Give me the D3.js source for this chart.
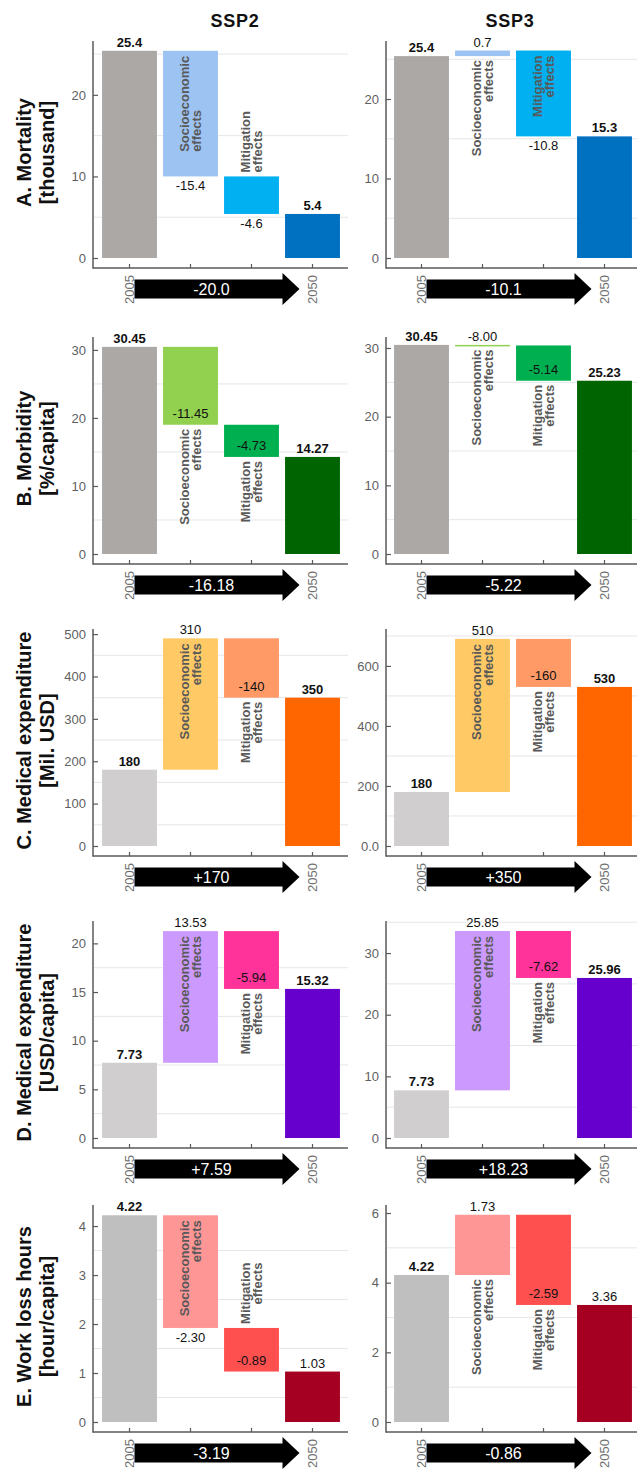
<!DOCTYPE html>
<html><head><meta charset="utf-8">
<script src="https://cdn.jsdelivr.net/npm/d3@7"></script>
<style>
body{margin:0;background:#fff}
svg{display:block}
text{font-family:"Liberation Sans",Arial,sans-serif}
</style>
</head><body>
<svg id="c" width="639" height="1472"></svg>
<script>
// ---------- DATA ----------
const categories = ["2005", "Socioeconomic effects", "Mitigation effects", "2050"];
const yearCategories = ["2005", "2050"];
const scenarios = ["SSP2", "SSP3"];
const indicatorNames = ["A. Mortality", "B. Morbidity", "C. Medical expenditure", "D. Medical expenditure", "E. Work loss hours"];
const indicatorUnits = ["[thousand]", "[%/capita]", "[Mil. USD]", "[USD/capita]", "[hour/capita]"];

// [2005 level, socioeconomic change, mitigation change, 2050 level]
const mortalitySSP2 = [25.4, -15.4, -4.6, 5.4];
const mortalitySSP3 = [25.4, 0.7, -10.8, 15.3];
const morbiditySSP2 = [30.45, -11.45, -4.73, 14.27];
const morbiditySSP3 = [30.45, -0.08, -5.14, 25.23];
const medExpSSP2 = [180, 310, -140, 350];
const medExpSSP3 = [180, 510, -160, 530];
const medExpCapSSP2 = [7.73, 13.53, -5.94, 15.32];
const medExpCapSSP3 = [7.73, 25.85, -7.62, 25.96];
const workLossSSP2 = [4.22, -2.30, -0.89, 1.03];
const workLossSSP3 = [4.22, 1.73, -2.59, 3.36];

const mortalitySSP2Labels = ["25.4", "-15.4", "-4.6", "5.4"];
const mortalitySSP3Labels = ["25.4", "0.7", "-10.8", "15.3"];
const morbiditySSP2Labels = ["30.45", "-11.45", "-4.73", "14.27"];
const morbiditySSP3Labels = ["30.45", "-8.00", "-5.14", "25.23"];
const medExpSSP2Labels = ["180", "310", "-140", "350"];
const medExpSSP3Labels = ["180", "510", "-160", "530"];
const medExpCapSSP2Labels = ["7.73", "13.53", "-5.94", "15.32"];
const medExpCapSSP3Labels = ["7.73", "25.85", "-7.62", "25.96"];
const workLossSSP2Labels = ["4.22", "-2.30", "-0.89", "1.03"];
const workLossSSP3Labels = ["4.22", "1.73", "-2.59", "3.36"];

const totalsSSP2 = ["-20.0", "-16.18", "+170", "+7.59", "-3.19"];
const totalsSSP3 = ["-10.1", "-5.22", "+350", "+18.23", "-0.86"];

const mortalityTicks = [0, 10, 20];
const morbidityTicks = [0, 10, 20, 30];
const medExpTicksSSP2 = [0, 100, 200, 300, 400, 500];
const medExpTicksSSP3 = [0, 200, 400, 600];
const medExpTickLabelsSSP3 = ["0.0", "200", "400", "600"];
const medExpCapTicksSSP2 = [0, 5, 10, 15, 20];
const medExpCapTicksSSP3 = [0, 10, 20, 30];
const workLossTicksSSP2 = [0, 1, 2, 3, 4];
const workLossTicksSSP3 = [0, 2, 4, 6];

const axisMaxSSP2 = [26.6, 31.9, 512, 22.3, 4.43];
const axisMaxSSP3 = [27.3, 31.6, 723, 35.2, 6.23];

// ---------- STYLE / LAYOUT ----------
const rowColors = [
  ["#ABA8A6", "#9DC3F3", "#00B0F0", "#0070C0"],
  ["#ABA8A6", "#92D050", "#00B050", "#006400"],
  ["#D0CECE", "#FFCA66", "#FF9966", "#FF6600"],
  ["#D0CECE", "#CC99FF", "#FF3399", "#6600CC"],
  ["#BFBFBF", "#FF9696", "#FF5050", "#A50021"]
];
const M1 = {sv: "above", st: "inTop", sa: "top", mv: "inBottom", mt: "below", ma: "top"};
const labelModes = [
  [{sv: "below", st: "inTop", sa: "bottom", mv: "below", mt: "above", ma: "bottom"},
   {sv: "above", st: "below", sa: "top", mv: "below", mt: "inTop", ma: "top"}],
  [{sv: "inBottom", st: "below", sa: "top", mv: "inBottom", mt: "below", ma: "top"},
   {sv: "above", st: "below", sa: "top", mv: "inBottom", mt: "below", ma: "top"}],
  [M1, M1],
  [M1, M1],
  [{sv: "below", st: "inTop", sa: "top", mv: "inBottom", mt: "above", ma: "top"},
   {sv: "above", st: "below", sa: "top", mv: "inBottom", mt: "below", ma: "top"}]
];

const rowTop = [41, 337, 629, 921, 1205];
const plotH = 217, axisGap = 10;
const yAxisX = [93, 386];
const bandStart = [99, 391], bandWidth = 244;
const axisRight = [348, 637];
const titleX = [235, 510];
const axisColor = "#5a5a5a";

const panelValues = [
  [mortalitySSP2, mortalitySSP3], [morbiditySSP2, morbiditySSP3],
  [medExpSSP2, medExpSSP3], [medExpCapSSP2, medExpCapSSP3], [workLossSSP2, workLossSSP3]];
const panelLabels = [
  [mortalitySSP2Labels, mortalitySSP3Labels], [morbiditySSP2Labels, morbiditySSP3Labels],
  [medExpSSP2Labels, medExpSSP3Labels], [medExpCapSSP2Labels, medExpCapSSP3Labels],
  [workLossSSP2Labels, workLossSSP3Labels]];
const panelTicks = [
  [mortalityTicks, mortalityTicks], [morbidityTicks, morbidityTicks],
  [medExpTicksSSP2, medExpTicksSSP3], [medExpCapTicksSSP2, medExpCapTicksSSP3],
  [workLossTicksSSP2, workLossTicksSSP3]];
const panelTickLabels = [
  [mortalityTicks.map(String), mortalityTicks.map(String)],
  [morbidityTicks.map(String), morbidityTicks.map(String)],
  [medExpTicksSSP2.map(String), medExpTickLabelsSSP3],
  [medExpCapTicksSSP2.map(String), medExpCapTicksSSP3.map(String)],
  [workLossTicksSSP2.map(String), workLossTicksSSP3.map(String)]];

const svg = d3.select("#c");

// Column titles
scenarios.forEach((s, i) => {
  svg.append("text").attr("x", titleX[i]).attr("y", 27).attr("text-anchor", "middle")
    .attr("font-size", 18).attr("font-weight", "bold").attr("letter-spacing", 0.8)
    .attr("fill", "#111").text(s);
});

function rotLabel(g, cx, lines, mode, align, barTop, barBottom) {
  const offs = [-6, 6];
  const texts = lines.map((t, k) => g.append("text")
    .attr("font-size", 13).attr("font-weight", "bold").attr("fill", "#595959")
    .attr("dy", "0.35em").text(t));
  const L = Math.max(...texts.map(t => t.node().getComputedTextLength()));
  let topStart;
  if (mode === "inTop") topStart = barTop + 5;
  else if (mode === "below") topStart = barBottom + 4;
  else topStart = barTop - 4 - L;
  texts.forEach((t, k) => {
    if (align === "top") {
      t.attr("text-anchor", "end").attr("transform", `translate(${cx + offs[k]},${topStart}) rotate(-90)`);
    } else {
      t.attr("text-anchor", "start").attr("transform", `translate(${cx + offs[k]},${topStart + L}) rotate(-90)`);
    }
  });
}

function drawPanel(row, col) {
  const vals = panelValues[row][col];
  const labs = panelLabels[row][col];
  const ticks = panelTicks[row][col];
  const tickLabs = panelTickLabels[row][col];
  const max = (col ? axisMaxSSP3 : axisMaxSSP2)[row];
  const total = (col ? totalsSSP3 : totalsSSP2)[row];
  const modes = labelModes[row][col];
  const top = rowTop[row], zeroY = top + plotH, axisY = zeroY + axisGap;

  const x = d3.scaleBand().domain(categories)
    .range([bandStart[col], bandStart[col] + bandWidth]).paddingInner(0.1).paddingOuter(0.05);
  const y = d3.scaleLinear().domain([0, max]).range([zeroY, top]);
  const g = svg.append("g");

  // gridlines between the labelled ticks
  const step = ticks[1] - ticks[0];
  const grid = ticks.map(t => t + step / 2).filter(v => v <= max);
  g.selectAll(".grid").data(grid).join("line")
    .attr("x1", yAxisX[col] + 1).attr("x2", axisRight[col])
    .attr("y1", d => y(d)).attr("y2", d => y(d))
    .attr("stroke", "#e6e6e6").attr("stroke-width", 1);

  // waterfall bars
  const c1 = vals[0] + vals[1], c2 = c1 + vals[2];
  const spans = [[0, vals[0]], [vals[0], c1], [c1, c2], [0, vals[3]]];
  const bars = categories.map((c, i) => ({c, i, lo: Math.min(...spans[i]), hi: Math.max(...spans[i])}));
  g.selectAll(".bar").data(bars).join("rect")
    .attr("x", d => x(d.c)).attr("width", x.bandwidth())
    .attr("y", d => y(d.hi))
    .attr("height", d => Math.max(1.5, y(d.lo) - y(d.hi)))
    .attr("fill", d => rowColors[row][d.i]);

  // y axis
  const yAx = d3.axisLeft(y).tickValues(ticks)
    .tickFormat(d => tickLabs[ticks.indexOf(d)])
    .tickSizeInner(-5).tickSizeOuter(0).tickPadding(7);
  const ya = g.append("g").attr("transform", `translate(${yAxisX[col]},0)`).call(yAx);
  ya.select(".domain").remove();
  ya.attr("color", axisColor).attr("font-size", null).attr("font-family", null);
  ya.selectAll("text").attr("font-size", 13).attr("fill", "#5f5f5f");
  ya.selectAll("line").attr("stroke-width", 1.2);

  // x axis
  const xAx = d3.axisBottom(x).tickSizeInner(-4).tickSizeOuter(0)
    .tickFormat(d => yearCategories.includes(d) ? d : "");
  const xa = g.append("g").attr("transform", `translate(0,${axisY})`).call(xAx);
  xa.select(".domain").remove();
  xa.attr("color", axisColor).attr("font-size", null).attr("font-family", null);
  xa.selectAll("line").attr("stroke-width", 1.2);
  xa.selectAll("text").attr("font-size", 13).attr("fill", "#707070")
    .attr("text-anchor", "end").attr("transform", "rotate(-90)")
    .attr("x", -7).attr("y", 0).attr("dy", "0.35em");

  // axis lines
  g.append("line").attr("x1", yAxisX[col]).attr("x2", yAxisX[col]).attr("y1", top).attr("y2", axisY + 0.75)
    .attr("stroke", axisColor).attr("stroke-width", 1.5);
  g.append("line").attr("x1", yAxisX[col]).attr("x2", axisRight[col]).attr("y1", axisY).attr("y2", axisY)
    .attr("stroke", axisColor).attr("stroke-width", 1.5);

  // value labels
  bars.forEach(d => {
    const cx = x(d.c) + x.bandwidth() / 2;
    const mode = (d.i === 0 || d.i === 3) ? "above" : (d.i === 1 ? modes.sv : modes.mv);
    const yy = mode === "above" ? y(d.hi) - 4 : mode === "below" ? y(d.lo) + 14 : y(d.lo) - 7;
    const bold = d.i === 0 || (d.i === 3 && row < 4);
    g.append("text").attr("x", cx).attr("y", yy).attr("text-anchor", "middle")
      .attr("font-size", 13).attr("font-weight", bold ? "bold" : "normal")
      .attr("fill", "#111").text(labs[d.i]);
  });

  // rotated category labels
  const bs = bars[1], bm = bars[2];
  rotLabel(g, x(bs.c) + x.bandwidth() / 2, ["Socioeconomic", "effects"], modes.st, modes.sa,
    y(bs.hi), y(bs.lo));
  rotLabel(g, x(bm.c) + x.bandwidth() / 2, ["Mitigation", "effects"], modes.mt, modes.ma,
    y(bm.hi), y(bm.lo));

  // total change arrow
  const x0 = x("2005") + x.bandwidth() / 2 + 5;
  const tip = x("2050") + x.bandwidth() / 2 - 13;
  const hs = tip - 17, cy = axisY + 21, bh = 9.5, hh = 16;
  g.append("path")
    .attr("d", `M${x0},${cy - bh}L${hs},${cy - bh}L${hs},${cy - hh}L${tip},${cy}L${hs},${cy + hh}L${hs},${cy + bh}L${x0},${cy + bh}Z`)
    .attr("fill", "#000");
  g.append("text").attr("x", (x0 + hs) / 2 + 3).attr("y", cy).attr("dy", "0.36em")
    .attr("text-anchor", "middle").attr("font-size", 16).attr("fill", "#fff").text(total);

  // row title (only once per row)
  if (col === 0) {
    const cyT = (top + axisY) / 2 - 2;
    [[indicatorNames[row], 24], [indicatorUnits[row], 47]].forEach(([t, xx]) => {
      svg.append("text").attr("transform", `translate(${xx},${cyT}) rotate(-90)`)
        .attr("text-anchor", "middle").attr("dy", "0.35em")
        .attr("font-size", 20).attr("font-weight", "bold").attr("fill", "#111").text(t);
    });
  }
}

for (let r = 0; r < 5; r++) for (let c = 0; c < 2; c++) drawPanel(r, c);
</script>
</body></html>
